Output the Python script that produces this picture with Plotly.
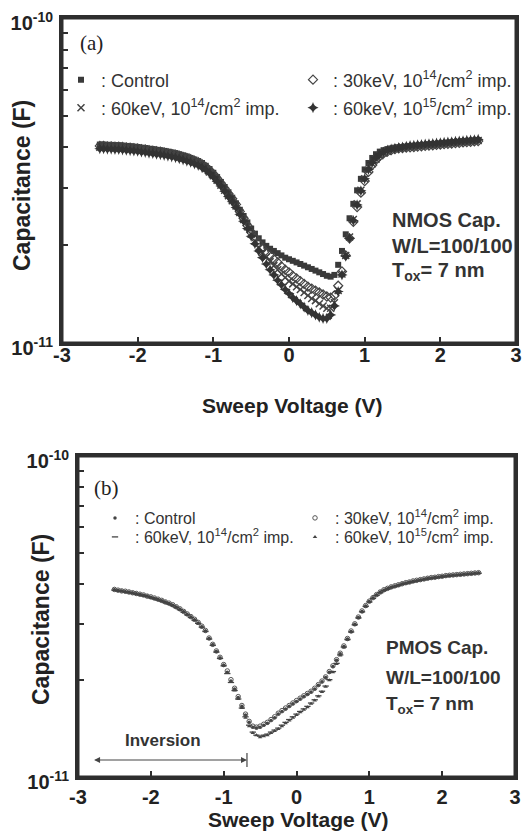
import plotly.graph_objects as go

W, H = 531, 833
OX, OY = 8, 8  # page body margin of the browser
UNIT = 1e-11  # values below are in units of 1e-11 F

VOLTAGE = [-2.5, -2.45, -2.4, -2.35, -2.3, -2.25, -2.2, -2.15, -2.1, -2.05,
           -2.0, -1.95, -1.9, -1.85, -1.8, -1.75, -1.7, -1.65, -1.6, -1.55,
           -1.5, -1.45, -1.4, -1.35, -1.3, -1.25, -1.2, -1.15, -1.1, -1.05,
           -1.0, -0.95, -0.9, -0.85, -0.8, -0.75, -0.7, -0.65, -0.6, -0.55,
           -0.5, -0.45, -0.4, -0.35, -0.3, -0.25, -0.2, -0.15, -0.1, -0.05,
           0.0, 0.05, 0.1, 0.15, 0.2, 0.25, 0.3, 0.35, 0.4, 0.45,
           0.5, 0.55, 0.6, 0.65, 0.7, 0.75, 0.8, 0.85, 0.9, 0.95,
           1.0, 1.05, 1.1, 1.15, 1.2, 1.25, 1.3, 1.35, 1.4, 1.45,
           1.5, 1.55, 1.6, 1.65, 1.7, 1.75, 1.8, 1.85, 1.9, 1.95,
           2.0, 2.05, 2.1, 2.15, 2.2, 2.25, 2.3, 2.35, 2.4, 2.45,
           2.5]

# ---- (a) NMOS capacitor ----
NMOS_CONTROL = [4.08, 4.08, 4.07, 4.07, 4.06, 4.06, 4.05, 4.04, 4.03, 4.02,
                4.01, 3.99, 3.98, 3.96, 3.95, 3.93, 3.92, 3.90, 3.88, 3.86,
                3.84, 3.81, 3.78, 3.75, 3.71, 3.67, 3.63, 3.58, 3.51, 3.43,
                3.34, 3.24, 3.13, 3.02, 2.91, 2.80, 2.69, 2.57, 2.46, 2.35,
                2.25, 2.17, 2.10, 2.04, 1.99, 1.95, 1.92, 1.89, 1.86, 1.83,
                1.81, 1.79, 1.77, 1.75, 1.73, 1.71, 1.69, 1.67, 1.65, 1.63,
                1.61, 1.60, 1.62, 1.74, 1.92, 2.16, 2.42, 2.68, 2.95, 3.20,
                3.42, 3.58, 3.71, 3.81, 3.88, 3.92, 3.95, 3.97, 3.99, 4.00,
                4.01, 4.02, 4.03, 4.04, 4.05, 4.06, 4.07, 4.08, 4.09, 4.10,
                4.11, 4.12, 4.13, 4.14, 4.15, 4.16, 4.17, 4.18, 4.19, 4.20,
                4.21]
NMOS_30KEV_1E14 = [4.04, 4.04, 4.03, 4.03, 4.02, 4.02, 4.01, 4.00, 3.99, 3.98,
                   3.97, 3.95, 3.94, 3.92, 3.91, 3.89, 3.88, 3.86, 3.84, 3.82,
                   3.80, 3.77, 3.74, 3.71, 3.68, 3.64, 3.60, 3.55, 3.48, 3.40,
                   3.31, 3.21, 3.10, 2.99, 2.88, 2.78, 2.67, 2.54, 2.42, 2.30,
                   2.19, 2.10, 2.02, 1.95, 1.90, 1.86, 1.81, 1.77, 1.72, 1.68,
                   1.65, 1.61, 1.58, 1.55, 1.52, 1.49, 1.47, 1.45, 1.43, 1.41,
                   1.39, 1.38, 1.40, 1.50, 1.66, 1.86, 2.10, 2.36, 2.62, 2.90,
                   3.15, 3.36, 3.53, 3.66, 3.76, 3.83, 3.88, 3.92, 3.95, 3.97,
                   3.98, 3.99, 4.00, 4.01, 4.02, 4.03, 4.04, 4.05, 4.06, 4.07,
                   4.08, 4.09, 4.10, 4.11, 4.12, 4.13, 4.14, 4.15, 4.16, 4.17,
                   4.18]
NMOS_60KEV_1E14 = [4.00, 4.00, 3.99, 3.99, 3.98, 3.98, 3.97, 3.96, 3.95, 3.94,
                   3.93, 3.91, 3.90, 3.88, 3.87, 3.85, 3.84, 3.82, 3.80, 3.78,
                   3.76, 3.73, 3.70, 3.67, 3.64, 3.60, 3.56, 3.51, 3.44, 3.36,
                   3.27, 3.17, 3.06, 2.95, 2.84, 2.74, 2.64, 2.52, 2.40, 2.28,
                   2.16, 2.06, 1.97, 1.90, 1.84, 1.78, 1.73, 1.68, 1.63, 1.59,
                   1.55, 1.52, 1.49, 1.46, 1.43, 1.40, 1.37, 1.35, 1.32, 1.30,
                   1.28, 1.28, 1.33, 1.45, 1.63, 1.86, 2.12, 2.40, 2.68, 2.95,
                   3.20, 3.40, 3.56, 3.68, 3.77, 3.84, 3.89, 3.93, 3.96, 3.98,
                   4.00, 4.01, 4.02, 4.03, 4.04, 4.05, 4.06, 4.07, 4.08, 4.09,
                   4.10, 4.11, 4.12, 4.13, 4.14, 4.15, 4.16, 4.17, 4.18, 4.19,
                   4.20]
NMOS_60KEV_1E15 = [3.96, 3.96, 3.95, 3.95, 3.94, 3.94, 3.93, 3.92, 3.91, 3.90,
                   3.89, 3.87, 3.86, 3.84, 3.83, 3.81, 3.80, 3.78, 3.76, 3.74,
                   3.72, 3.69, 3.66, 3.63, 3.60, 3.56, 3.52, 3.47, 3.41, 3.33,
                   3.24, 3.14, 3.04, 2.93, 2.82, 2.72, 2.61, 2.49, 2.37, 2.25,
                   2.13, 2.02, 1.92, 1.83, 1.75, 1.68, 1.62, 1.56, 1.51, 1.46,
                   1.42, 1.38, 1.35, 1.32, 1.29, 1.26, 1.24, 1.22, 1.20, 1.19,
                   1.19, 1.22, 1.30, 1.44, 1.62, 1.85, 2.10, 2.38, 2.66, 2.94,
                   3.20, 3.42, 3.59, 3.72, 3.81, 3.87, 3.92, 3.95, 3.97, 3.99,
                   4.01, 4.03, 4.05, 4.06, 4.07, 4.08, 4.09, 4.10, 4.11, 4.12,
                   4.13, 4.14, 4.15, 4.16, 4.17, 4.18, 4.19, 4.20, 4.21, 4.22,
                   4.23]

# ---- (b) PMOS capacitor ----
PMOS_CONTROL = [3.83, 3.81, 3.80, 3.78, 3.76, 3.74, 3.72, 3.70, 3.68, 3.66,
                3.63, 3.60, 3.57, 3.54, 3.50, 3.47, 3.43, 3.38, 3.33, 3.27,
                3.21, 3.15, 3.09, 3.02, 2.94, 2.85, 2.70, 2.58, 2.46, 2.35,
                2.23, 2.12, 1.99, 1.88, 1.77, 1.66, 1.56, 1.48, 1.43, 1.42,
                1.43, 1.45, 1.47, 1.50, 1.53, 1.57, 1.60, 1.63, 1.66, 1.69,
                1.72, 1.75, 1.78, 1.81, 1.84, 1.88, 1.93, 1.98, 2.04, 2.12,
                2.21, 2.31, 2.42, 2.55, 2.69, 2.84, 2.99, 3.14, 3.28, 3.41,
                3.52, 3.61, 3.69, 3.76, 3.82, 3.86, 3.90, 3.93, 3.96, 3.99,
                4.02, 4.04, 4.07, 4.09, 4.11, 4.13, 4.15, 4.17, 4.18, 4.20,
                4.21, 4.23, 4.24, 4.25, 4.26, 4.27, 4.28, 4.29, 4.30, 4.31,
                4.32]
PMOS_30KEV_1E14 = [3.84, 3.82, 3.80, 3.79, 3.77, 3.75, 3.73, 3.71, 3.69, 3.66,
                   3.64, 3.61, 3.58, 3.55, 3.51, 3.48, 3.44, 3.39, 3.34, 3.28,
                   3.22, 3.16, 3.10, 3.03, 2.95, 2.86, 2.71, 2.59, 2.47, 2.36,
                   2.24, 2.14, 2.01, 1.89, 1.78, 1.67, 1.57, 1.49, 1.44, 1.43,
                   1.44, 1.46, 1.48, 1.51, 1.54, 1.58, 1.61, 1.64, 1.67, 1.70,
                   1.73, 1.76, 1.79, 1.82, 1.85, 1.89, 1.94, 1.99, 2.05, 2.13,
                   2.22, 2.32, 2.43, 2.56, 2.70, 2.85, 3.00, 3.15, 3.29, 3.42,
                   3.53, 3.62, 3.70, 3.77, 3.83, 3.87, 3.91, 3.94, 3.97, 4.00,
                   4.03, 4.05, 4.08, 4.10, 4.12, 4.14, 4.16, 4.18, 4.19, 4.21,
                   4.22, 4.24, 4.25, 4.26, 4.27, 4.28, 4.29, 4.30, 4.31, 4.32,
                   4.33]
PMOS_60KEV_1E14 = [3.82, 3.80, 3.79, 3.77, 3.75, 3.73, 3.71, 3.69, 3.67, 3.65,
                   3.62, 3.59, 3.56, 3.53, 3.49, 3.46, 3.42, 3.37, 3.32, 3.26,
                   3.20, 3.14, 3.08, 3.01, 2.93, 2.84, 2.69, 2.57, 2.45, 2.34,
                   2.22, 2.10, 1.97, 1.86, 1.75, 1.64, 1.54, 1.45, 1.38, 1.35,
                   1.34, 1.35, 1.36, 1.38, 1.40, 1.42, 1.45, 1.48, 1.51, 1.54,
                   1.57, 1.60, 1.63, 1.66, 1.70, 1.74, 1.79, 1.85, 1.92, 2.01,
                   2.13, 2.26, 2.40, 2.54, 2.68, 2.83, 2.98, 3.13, 3.27, 3.40,
                   3.51, 3.60, 3.68, 3.75, 3.81, 3.85, 3.89, 3.92, 3.95, 3.98,
                   4.01, 4.03, 4.06, 4.08, 4.10, 4.12, 4.14, 4.16, 4.17, 4.19,
                   4.20, 4.22, 4.23, 4.24, 4.25, 4.26, 4.27, 4.28, 4.29, 4.30,
                   4.31]
PMOS_60KEV_1E15 = [3.83, 3.81, 3.79, 3.78, 3.76, 3.74, 3.72, 3.70, 3.67, 3.65,
                   3.62, 3.60, 3.57, 3.53, 3.50, 3.46, 3.42, 3.38, 3.32, 3.27,
                   3.21, 3.15, 3.08, 3.01, 2.93, 2.85, 2.70, 2.58, 2.46, 2.35,
                   2.23, 2.11, 1.98, 1.86, 1.75, 1.64, 1.53, 1.44, 1.37, 1.35,
                   1.33, 1.34, 1.35, 1.37, 1.39, 1.41, 1.44, 1.47, 1.50, 1.53,
                   1.56, 1.59, 1.62, 1.65, 1.69, 1.73, 1.78, 1.84, 1.91, 2.00,
                   2.12, 2.25, 2.39, 2.53, 2.68, 2.83, 2.98, 3.13, 3.27, 3.40,
                   3.51, 3.61, 3.69, 3.76, 3.81, 3.86, 3.90, 3.93, 3.96, 3.99,
                   4.01, 4.04, 4.06, 4.08, 4.11, 4.13, 4.15, 4.16, 4.18, 4.19,
                   4.21, 4.22, 4.23, 4.25, 4.26, 4.27, 4.28, 4.29, 4.30, 4.31,
                   4.32]

SERIES_NAMES = [": Control",
                ": 30keV, 10<sup>14</sup>/cm<sup>2</sup> imp.",
                ": 60keV, 10<sup>14</sup>/cm<sup>2</sup> imp.",
                ": 60keV, 10<sup>15</sup>/cm<sup>2</sup> imp."]

X_TICKS = [-3, -2, -1, 0, 1, 2, 3]
X_TICK_LABELS = ["-3", "-2", "-1", "0", "1", "2", "3"]
Y_TICKS = [1e-11, 1e-10]
Y_TICK_LABELS = ["10<sup>-11</sup>", "10<sup>-10</sup>"]
Y_MINOR_TICKS = [2e-11, 3e-11, 4e-11, 5e-11, 6e-11, 7e-11, 8e-11, 9e-11]

for s in (NMOS_CONTROL, NMOS_30KEV_1E14, NMOS_60KEV_1E14, NMOS_60KEV_1E15,
          PMOS_CONTROL, PMOS_30KEV_1E14, PMOS_60KEV_1E14, PMOS_60KEV_1E15):
    assert len(s) == len(VOLTAGE)


def px(x):
    return (x - OX) / W


def py(y):
    return 1 - (y - OY) / H


FONT = "Liberation Sans"
fig = go.Figure()

nmos_series = [NMOS_CONTROL, NMOS_30KEV_1E14, NMOS_60KEV_1E14, NMOS_60KEV_1E15]
nmos_markers = [
    dict(symbol="square", size=6, color="#3a3a3a"),
    dict(symbol="diamond-open", size=7, color="#444444", line=dict(width=1.2, color="#444444")),
    dict(symbol="x-thin-open", size=7, color="#444444", line=dict(width=1.5, color="#444444")),
    dict(symbol="star-diamond", size=8, color="#333333"),
]
nmos_legends = ["legend", "legend2", "legend3", "legend4"]
for vals, mk, name, lg in zip(nmos_series, nmos_markers, SERIES_NAMES, nmos_legends):
    fig.add_trace(go.Scatter(x=VOLTAGE, y=[v * UNIT for v in vals], mode="markers",
                             marker=mk, name=name, legend=lg, showlegend=True,
                             xaxis="x", yaxis="y"))

pmos_series = [PMOS_CONTROL, PMOS_30KEV_1E14, PMOS_60KEV_1E14, PMOS_60KEV_1E15]
pmos_markers = [
    dict(symbol="circle", size=3.5, color="#444444"),
    dict(symbol="circle-open", size=4.5, color="#555555", line=dict(width=1, color="#555555")),
    dict(symbol="line-ew-open", size=4.5, color="#444444", line=dict(width=1.3, color="#444444")),
    dict(symbol="triangle-up", size=4, color="#444444"),
]
pmos_legends = ["legend5", "legend6", "legend7", "legend8"]
for vals, mk, name, lg in zip(pmos_series, pmos_markers, SERIES_NAMES, pmos_legends):
    fig.add_trace(go.Scatter(x=VOLTAGE, y=[v * UNIT for v in vals], mode="markers",
                             marker=mk, name=name, legend=lg, showlegend=True,
                             xaxis="x2", yaxis="y2"))

LINE_COLOR = "#2e2e2e"
tickfont = dict(family=FONT, size=20, color="#222", weight="bold")


def xaxis(domain, anchor, standoff):
    return dict(domain=domain, anchor=anchor, range=[-3, 3], tickvals=X_TICKS,
                ticktext=X_TICK_LABELS, ticks="inside", ticklen=6, tickwidth=2,
                tickcolor=LINE_COLOR, showline=True, linewidth=3, linecolor=LINE_COLOR,
                mirror=True, showgrid=False, zeroline=False, tickfont=tickfont,
                ticklabelstandoff=standoff, automargin=False, ticklabeloverflow="allow")


def yaxis(domain, anchor):
    return dict(domain=domain, anchor=anchor, type="log", range=[-11, -10],
                tickvals=Y_TICKS, ticktext=Y_TICK_LABELS, ticks="inside", ticklen=6,
                tickwidth=2, tickcolor=LINE_COLOR, showline=True, linewidth=3,
                linecolor=LINE_COLOR, mirror=True, showgrid=False, zeroline=False,
                tickfont=tickfont, ticklabelstandoff=2, ticklabelshift=5,
                automargin=False, ticklabeloverflow="allow",
                minor=dict(tickmode="array", tickvals=Y_MINOR_TICKS, ticks="inside",
                           ticklen=6, tickwidth=2, tickcolor=LINE_COLOR, showgrid=False))


legend_common = dict(xanchor="left", yanchor="middle", bgcolor="rgba(0,0,0,0)",
                     borderwidth=0, itemsizing="trace", orientation="h", visible=True)
top_font = dict(family=FONT, size=18, color="#333")
bot_font = dict(family=FONT, size=16, color="#333")

fig.update_layout(
    width=W, height=H, margin=dict(l=0, r=0, t=0, b=0, autoexpand=False),
    paper_bgcolor="white", plot_bgcolor="white", showlegend=True,
    xaxis=xaxis([px(62), px(516)], "y", -8),
    yaxis=yaxis([py(343), py(18)], "x"),
    xaxis2=xaxis([px(78), px(515)], "y2", 0),
    yaxis2=yaxis([py(777), py(456)], "x2"),
    legend=dict(x=px(61), y=py(80), font=top_font, **legend_common),
    legend2=dict(x=px(293), y=py(80), font=top_font, **legend_common),
    legend3=dict(x=px(61), y=py(108), font=top_font, **legend_common),
    legend4=dict(x=px(293), y=py(108), font=top_font, **legend_common),
    legend5=dict(x=px(95), y=py(518), font=bot_font, **legend_common),
    legend6=dict(x=px(295), y=py(518), font=bot_font, **legend_common),
    legend7=dict(x=px(95), y=py(537), font=bot_font, **legend_common),
    legend8=dict(x=px(295), y=py(537), font=bot_font, **legend_common),
)

# plot frames
for xr, yr in (("x domain", "y domain"), ("x2 domain", "y2 domain")):
    fig.add_shape(type="rect", xref=xr, yref=yr, x0=0, x1=1, y0=0, y1=1,
                  line=dict(color=LINE_COLOR, width=3), fillcolor="rgba(0,0,0,0)",
                  layer="above")

ann = []


def text(x, y, s, size, bold=True, family=FONT, xanchor="center", angle=0, color="#222"):
    ann.append(dict(x=px(x), y=py(y), xref="paper", yref="paper", text=s, showarrow=False,
                    xanchor=xanchor, yanchor="middle", textangle=angle,
                    font=dict(family=family, size=size, color=color,
                              weight="bold" if bold else "normal")))


# axis titles
text(22, 186, "Capacitance (F)", 23, angle=-90)
text(41, 620, "Capacitance (F)", 23, angle=-90)
text(292, 405, "Sweep Voltage (V)", 21)
text(298, 819, "Sweep Voltage (V)", 21)
# panel labels
text(78, 43, "(a)", 21, bold=False, family="Liberation Serif", xanchor="left")
text(92, 488, "(b)", 21, bold=False, family="Liberation Serif", xanchor="left")
# device notes
text(390, 220, "NMOS Cap.", 20, xanchor="left", color="#333")
text(390, 246, "W/L=100/100", 20, xanchor="left", color="#333")
text(390, 272, "T<sub>ox</sub>= 7 nm", 20, xanchor="left", color="#333")
text(384, 647, "PMOS Cap.", 19, xanchor="left", color="#333")
text(384, 677, "W/L=100/100", 19, xanchor="left", color="#333")
text(384, 705, "T<sub>ox</sub>= 7 nm", 19, xanchor="left", color="#333")
text(163, 740, "Inversion", 17, color="#333")

# inversion arrow
INV_START, INV_END = -2.8, -0.68
ann.append(dict(x=INV_END, y=py(760), xref="x2", yref="paper", ax=INV_START, ay=0,
                axref="x2", ayref="pixel", text="", showarrow=True, arrowhead=2,
                arrowside="end+start", arrowsize=1, arrowwidth=1.2, arrowcolor="#444",
                standoff=0, startstandoff=0))
fig.update_layout(annotations=ann)
fig.add_shape(type="line", xref="x2", yref="paper", x0=INV_END, x1=INV_END,
              y0=py(753), y1=py(767), line=dict(color="#444", width=1.2))

fig.write_html("out.html")
